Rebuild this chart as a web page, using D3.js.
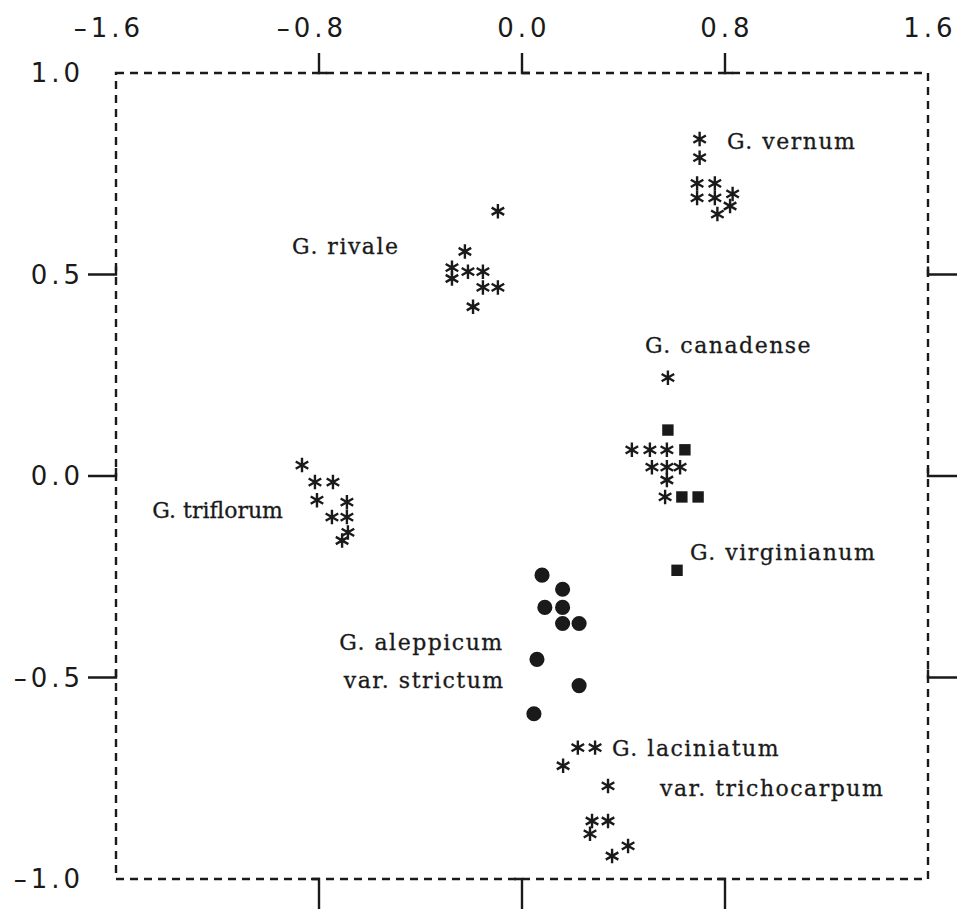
<!DOCTYPE html>
<html>
<head>
<meta charset="utf-8">
<script src="https://cdn.jsdelivr.net/npm/d3@7"></script>
<style>
  html, body { margin: 0; padding: 0; background: #fff; }
  svg { display: block; }
  .tick-label { font-family: "DejaVu Sans", sans-serif; font-size: 26px; letter-spacing: 4px; fill: #1a1a1a; }
  .group-label { font-family: "DejaVu Serif", serif; font-size: 22px; letter-spacing: 1.5px; fill: #1a1a1a; stroke: #1a1a1a; stroke-width: 0.3px; }
</style>
</head>
<body>
<script>
// ordination scores, [axis 1, axis 2]
const vernum = [[0.70, 0.836], [0.70, 0.79], [0.69, 0.726], [0.76, 0.726], [0.69, 0.69],
  [0.76, 0.69], [0.83, 0.70], [0.82, 0.67], [0.77, 0.65]];
const rivale = [[-0.095, 0.657], [-0.225, 0.557], [-0.276, 0.517], [-0.276, 0.49],
  [-0.213, 0.507], [-0.154, 0.507], [-0.154, 0.468], [-0.095, 0.468], [-0.193, 0.42]];
const canadense = [[0.575, 0.244], [0.433, 0.065], [0.504, 0.065], [0.571, 0.065],
  [0.512, 0.022], [0.571, 0.022], [0.623, 0.022], [0.571, -0.01], [0.564, -0.052]];
const virginianum = [[0.575, 0.114], [0.642, 0.065], [0.63, -0.052], [0.694, -0.052], [0.611, -0.234]];
const triflorum = [[-0.867, 0.027], [-0.816, -0.015], [-0.745, -0.015], [-0.808, -0.06],
  [-0.69, -0.065], [-0.749, -0.102], [-0.69, -0.102], [-0.686, -0.14], [-0.709, -0.16]];
const aleppicum = [[0.079, -0.246], [0.16, -0.281], [0.09, -0.326], [0.16, -0.326],
  [0.16, -0.366], [0.225, -0.366], [0.059, -0.455], [0.225, -0.52], [0.047, -0.59]];
const laciniatum = [[0.22, -0.674], [0.288, -0.674], [0.162, -0.719], [0.339, -0.769],
  [0.276, -0.856], [0.339, -0.856], [0.268, -0.888], [0.418, -0.918], [0.355, -0.943]];

const xTicks = [-1.6, -0.8, 0.0, 0.8, 1.6];
const yTicks = [1.0, 0.5, 0.0, -0.5, -1.0];

// group names placed next to their clusters, in data units
const labels = [
  { text: "G. vernum", x: 0.808, y: 0.811, anchor: "start" },
  { text: "G. rivale", x: -0.906, y: 0.55, anchor: "start" },
  { text: "G. canadense", x: 0.485, y: 0.306, anchor: "start" },
  { text: "G. virginianum", x: 0.662, y: -0.209, anchor: "start" },
  { text: "G. triflorum", x: -0.942, y: -0.104, anchor: "end" },
  { text: "G. aleppicum", x: -0.072, y: -0.433, anchor: "end" },
  { text: "var. strictum", x: -0.068, y: -0.525, anchor: "end" },
  { text: "G. laciniatum", x: 0.355, y: -0.694, anchor: "start" },
  { text: "var. trichocarpum", x: 0.544, y: -0.794, anchor: "start" }
];

const series = [
  { points: vernum, marker: "asterisk" },
  { points: rivale, marker: "asterisk" },
  { points: canadense, marker: "asterisk" },
  { points: virginianum, marker: "square" },
  { points: triflorum, marker: "asterisk" },
  { points: aleppicum, marker: "circle" },
  { points: laciniatum, marker: "asterisk" }
];

const width = 959;
const height = 909;
const ink = "#1a1a1a";

const x = d3.scaleLinear().domain([-1.6, 1.6]).range([116, 928]);
const y = d3.scaleLinear().domain([-1, 1]).range([879, 73]);

const svg = d3.select("body").append("svg")
  .attr("width", width)
  .attr("height", height);

// six-armed asterisk drawn as a symbol
const asteriskSymbol = {
  draw(context, size) {
    const r = Math.sqrt(size) / 2;
    context.moveTo(0, -r);
    context.lineTo(0, r);
    [Math.PI / 6, 5 * Math.PI / 6].forEach((a) => {
      context.moveTo(r * Math.cos(a), r * Math.sin(a));
      context.lineTo(-r * Math.cos(a), -r * Math.sin(a));
    });
  }
};

// dashed frame
svg.append("rect")
  .attr("x", x(-1.6))
  .attr("y", y(1))
  .attr("width", x(1.6) - x(-1.6))
  .attr("height", y(-1) - y(1))
  .attr("fill", "none")
  .attr("stroke", ink)
  .attr("stroke-width", 2.4)
  .attr("stroke-dasharray", "8 6");

// plotter style labels: short dash for the minus sign
const fmt = (t) => d3.format(".1f")(t).replace("\u2212", "\u2013");
const innerX = xTicks.filter((t) => t > -1.6 && t < 1.6);
const innerY = yTicks.filter((t) => t > -1 && t < 1);

const tickG = svg.append("g")
  .attr("fill", "none")
  .attr("stroke", ink)
  .attr("stroke-width", 2.4);

// top ticks: short stem with a foot along the frame
tickG.selectAll("path.top")
  .data(innerX)
  .join("path")
  .attr("d", (t) => `M${x(t)},${y(1) - 20}V${y(1)}H${x(t) + 8}`);

// bottom ticks
tickG.selectAll("path.bottom")
  .data(innerX)
  .join("path")
  .attr("d", (t) => `M${x(t) - 8},${y(-1)}H${x(t)}V${height}`);

// left ticks
tickG.selectAll("path.left")
  .data(innerY)
  .join("path")
  .attr("d", (t) => `M${x(-1.6) - 28},${y(t)}H${x(-1.6)}V${y(t) - 8}`);

// right ticks
tickG.selectAll("path.right")
  .data(innerY)
  .join("path")
  .attr("d", (t) => `M${x(1.6)},${y(t) - 8}V${y(t)}H${width - 2}`);

svg.append("g")
  .selectAll("text")
  .data(xTicks)
  .join("text")
  .attr("class", "tick-label")
  .attr("x", (t) => x(t) + 2)
  .attr("y", 37)
  .attr("dx", (t) => t < 0 ? -9 : 0)
  .attr("text-anchor", "middle")
  .text(fmt);

svg.append("g")
  .selectAll("text")
  .data(yTicks)
  .join("text")
  .attr("class", "tick-label")
  .attr("x", 84)
  .attr("y", (t) => Math.min(Math.max(y(t) + 9, 76), 894))
  .attr("text-anchor", "end")
  .text(fmt);

// markers
const markerG = svg.append("g");
series.forEach((s) => {
  const sel = markerG.append("g")
    .selectAll("path")
    .data(s.points)
    .join("path")
    .attr("transform", (d) => `translate(${x(d[0])},${y(d[1])})`);
  if (s.marker === "asterisk") {
    sel.attr("d", d3.symbol(asteriskSymbol, 210)())
      .attr("fill", "none")
      .attr("stroke", ink)
      .attr("stroke-width", 2.4);
  } else if (s.marker === "square") {
    sel.attr("d", d3.symbol(d3.symbolSquare, 130)())
      .attr("fill", ink);
  } else {
    sel.attr("d", d3.symbol(d3.symbolCircle, 180)())
      .attr("fill", ink);
  }
});

svg.append("g")
  .selectAll("text")
  .data(labels)
  .join("text")
  .attr("class", "group-label")
  .attr("x", (d) => x(d.x))
  .attr("y", (d) => y(d.y))
  .attr("text-anchor", (d) => d.anchor)
  // the "fl" ligature keeps this name tight in the original
  .style("letter-spacing", (d) => d.text.includes("fl") ? "0px" : null)
  .text((d) => d.text);
</script>
</body>
</html>
